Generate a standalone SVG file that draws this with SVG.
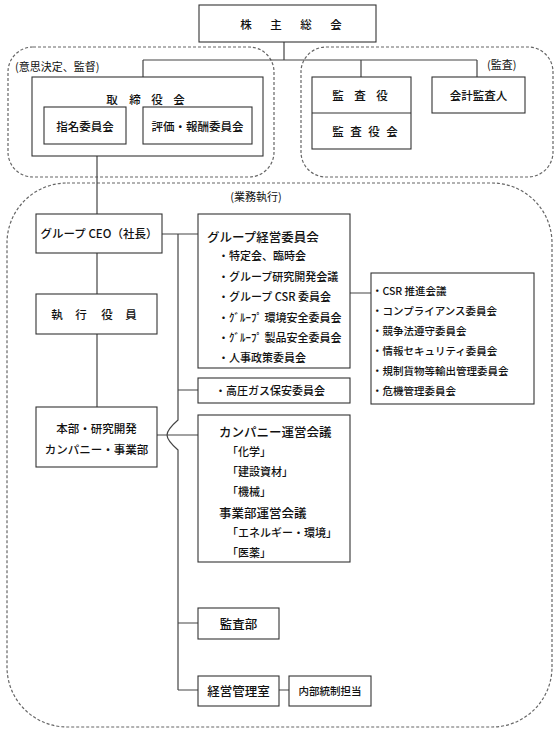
<svg xmlns="http://www.w3.org/2000/svg" width="558" height="732" viewBox="0 0 558 732">
<style>
text{font-family:"Noto Sans CJK JP","Noto Sans",sans-serif;fill:#111;font-size:11.5px;font-weight:500;dominant-baseline:central}
.box{fill:#fff;stroke:#333;stroke-width:1.1}
.dash{fill:none;stroke:#666;stroke-width:1.2;stroke-dasharray:3 2}
.con{fill:none;stroke:#444;stroke-width:1.2}
.m{text-anchor:middle}
.lbl{font-size:11px}
.par{font-size:11px;font-weight:400}
.sm{font-size:10.5px}
.tt{font-size:12.5px}
</style>
<rect width="558" height="732" fill="#fff"/>
<g id="groups">
<rect class="dash" x="8" y="47" width="266" height="130" rx="25"/>
<text class="par" x="15" y="66">(意思決定、監督)</text>
<rect class="dash" x="301" y="47" width="252" height="130" rx="25"/>
<text class="par" x="487" y="64">(監査)</text>
<rect class="dash" x="7" y="183" width="545" height="544" rx="60"/>
<text class="par m" x="256" y="196">(業務執行)</text>
</g>
<g id="connectors">
<path class="con" d="M284,42V60M143,60H477M143,60V77M361,60V77M477,60V77"/>
<path class="con" d="M97,156V214M97,253V294M97,334V407"/>
<path class="con" d="M162,234H198M178,234V420C170,427 167,431 167,435C167,439 170,443 178,450V690M178,390H198M157,435H198M178,623H198M178,690H198M279,690H289M330,293H371"/>
</g>
<g id="n-shareholders">
<rect class="box" x="199" y="5" width="177" height="37"/>
<text class="m" x="246 276 306 336" y="24">株主総会</text>
</g>
<g id="n-board">
<rect class="box" x="32" y="77" width="231" height="79"/>
<text class="m" x="112 135 157 179" y="99">取締役会</text>
</g>
<g id="n-nomination">
<rect class="box" x="44" y="107" width="82" height="37"/>
<text class="m" x="85" y="126">指名委員会</text>
</g>
<g id="n-compensation">
<rect class="box" x="143" y="107" width="109" height="37"/>
<text class="m" x="197.5" y="126">評価・報酬委員会</text>
</g>
<g id="n-auditor">
<rect class="box" x="312" y="77" width="99" height="72"/>
<line x1="312" y1="113" x2="411" y2="113" stroke="#333" stroke-width="1.1"/>
<text class="m" x="338 360 382" y="95">監査役</text>
<text class="m" x="338 356 374 392" y="131">監査役会</text>
</g>
<g id="n-accounting">
<rect class="box" x="432" y="77" width="93" height="36"/>
<text class="m" x="478.5" y="95">会計監査人</text>
</g>
<g id="n-ceo">
<rect class="box" x="36" y="214" width="126" height="39"/>
<text class="m" x="99" y="233">グループ CEO（社長）</text>
</g>
<g id="n-officers">
<rect class="box" x="36" y="294" width="121" height="40"/>
<text class="m" x="57 81 107 131" y="314">執行役員</text>
</g>
<g id="n-divisions">
<rect class="box" x="36" y="407" width="121" height="60"/>
<text class="m" x="96.5" y="428">本部・研究開発</text>
<text class="m" x="96.5" y="449">カンパニー・事業部</text>
</g>
<g id="n-mgmt-committee">
<rect class="box" x="198" y="214" width="152" height="154"/>
<text class="tt" x="207" y="236">グループ経営委員会</text>
<text class="lbl" x="218" y="255">・特定会、臨時会</text>
<text class="lbl" x="218" y="276">・グループ研究開発会議</text>
<text class="lbl" x="218" y="296">・グループ CSR 委員会</text>
<text class="lbl" x="218" y="317">・ｸﾞﾙｰﾌﾟ 環境安全委員会</text>
<text class="lbl" x="218" y="337">・ｸﾞﾙｰﾌﾟ 製品安全委員会</text>
<text class="lbl" x="218" y="357">・人事政策委員会</text>
</g>
<g id="n-csr-list">
<rect class="box" x="371" y="273" width="163" height="131"/>
<text class="sm" x="372" y="290">・CSR 推進会議</text>
<text class="sm" x="372" y="310">・コンプライアンス委員会</text>
<text class="sm" x="372" y="330">・競争法遵守委員会</text>
<text class="sm" x="372" y="350">・情報セキュリティ委員会</text>
<text class="sm" x="372" y="370">・規制貨物等輸出管理委員会</text>
<text class="sm" x="372" y="390">・危機管理委員会</text>
</g>
<g id="n-gas">
<rect class="box" x="198" y="378" width="152" height="25"/>
<text class="lbl" x="215" y="390">・高圧ガス保安委員会</text>
</g>
<g id="n-company-council">
<rect class="box" x="198" y="415" width="152" height="147"/>
<text class="tt" x="219" y="431">カンパニー運営会議</text>
<text class="lbl" x="227" y="451">「化学」</text>
<text class="lbl" x="227" y="471">「建設資材」</text>
<text class="lbl" x="227" y="491">「機械」</text>
<text class="tt" x="219" y="512">事業部運営会議</text>
<text class="lbl" x="227" y="532">「エネルギー・環境」</text>
<text class="lbl" x="227" y="552">「医薬」</text>
</g>
<g id="n-audit-dept">
<rect class="box" x="198" y="608" width="81" height="31"/>
<text class="tt m" x="238.5" y="623">監査部</text>
</g>
<g id="n-mgmt-office">
<rect class="box" x="198" y="676" width="81" height="30"/>
<text class="tt m" x="238.5" y="690">経営管理室</text>
</g>
<g id="n-internal-control">
<rect class="box" x="289" y="676" width="82" height="30"/>
<text class="sm m" x="330" y="690">内部統制担当</text>
</g>
</svg>
